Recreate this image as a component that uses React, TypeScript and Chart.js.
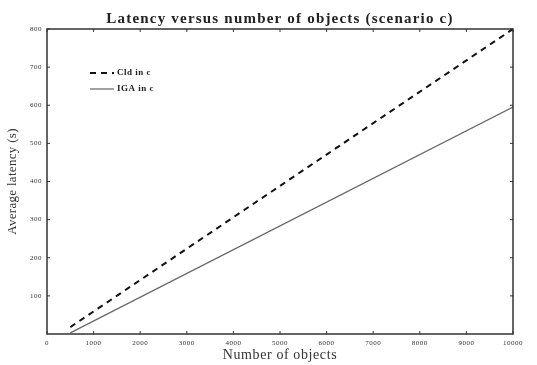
import React, { useEffect, useRef } from "react";
import { Chart, registerables } from "chart.js";
Chart.register(...registerables);

const titleText = "Latency versus number of objects (scenario c)";
const xTitle = "Number of objects";
const yTitle = "Average latency (s)";
const objectCounts = [500, 10000];
const cldLatency = [18, 800];
const igaLatency = [3, 595];
const seriesNames = ["Cld in c", "IGA in c"];
const xTicks = [0, 1000, 2000, 3000, 4000, 5000, 6000, 7000, 8000, 9000, 10000];
const yTicks = [100, 200, 300, 400, 500, 600, 700, 800];

const SERIF = "'Liberation Serif', 'DejaVu Serif', serif";

const framePlugin = {
  id: "frame",
  beforeDraw(chart: any) {
    chart.ctx.letterSpacing = "0.5px";
  },
  afterDatasetsDraw(chart: any) {
    const { ctx, chartArea: a, scales } = chart;
    ctx.save();
    ctx.strokeStyle = "#333";
    ctx.lineWidth = 1.5;
    ctx.strokeRect(a.left, a.top, a.right - a.left, a.bottom - a.top);
    ctx.lineWidth = 1;
    const tl = 3;
    ctx.beginPath();
    for (const v of xTicks) {
      const x = scales.x.getPixelForValue(v);
      ctx.moveTo(x, a.bottom);
      ctx.lineTo(x, a.bottom - tl);
      ctx.moveTo(x, a.top);
      ctx.lineTo(x, a.top + tl);
    }
    for (const v of yTicks) {
      const y = scales.y.getPixelForValue(v);
      ctx.moveTo(a.left, y);
      ctx.lineTo(a.left + tl, y);
      ctx.moveTo(a.right, y);
      ctx.lineTo(a.right - tl, y);
    }
    ctx.stroke();
    // legend
    const lx = a.left + 43;
    const ly = a.top + 44;
    const items = [
      { dash: [6, 5], width: 2, color: "#111" },
      { dash: [], width: 1.2, color: "#666" },
    ];
    ctx.font = "bold 9px " + SERIF;
    ctx.letterSpacing = "0.5px";
    ctx.textBaseline = "middle";
    ctx.textAlign = "left";
    items.forEach((it, i) => {
      const y = ly + i * 16;
      ctx.strokeStyle = it.color;
      ctx.lineWidth = it.width;
      ctx.setLineDash(it.dash);
      ctx.beginPath();
      ctx.moveTo(lx, y);
      ctx.lineTo(lx + 24, y);
      ctx.stroke();
      ctx.setLineDash([]);
      ctx.fillStyle = "#222";
      ctx.fillText(seriesNames[i], lx + 27, y);
    });
    // titles
    const cx = (a.left + a.right) / 2;
    ctx.textAlign = "center";
    ctx.fillStyle = "#222";
    ctx.font = "bold 15px " + SERIF;
    ctx.letterSpacing = "1.2px";
    ctx.fillText(titleText, cx, 19);
    ctx.fillStyle = "#333";
    ctx.font = "14px " + SERIF;
    ctx.letterSpacing = "0.6px";
    ctx.fillText(xTitle, cx, 355);
    ctx.translate(13, (a.top + a.bottom) / 2);
    ctx.rotate(-Math.PI / 2);
    ctx.font = "13px " + SERIF;
    ctx.letterSpacing = "0.3px";
    ctx.fillText(yTitle, 0, 0);
    ctx.restore();
  },
  afterDraw(chart: any) {
    chart.ctx.letterSpacing = "0px";
  },
};

export default function App() {
  const ref = useRef<HTMLCanvasElement>(null);
  useEffect(() => {
    document.body.style.margin = "0";
    const chart = new Chart(ref.current!, {
      type: "line",
      data: {
        datasets: [
          {
            label: seriesNames[0],
            data: objectCounts.map((x, i) => ({ x, y: cldLatency[i] })),
            borderColor: "#111",
            borderWidth: 2,
            borderDash: [6, 5],
            pointRadius: 0,
            fill: false,
          },
          {
            label: seriesNames[1],
            data: objectCounts.map((x, i) => ({ x, y: igaLatency[i] })),
            borderColor: "#666",
            borderWidth: 1.2,
            pointRadius: 0,
            fill: false,
          },
        ],
      },
      options: {
        animation: false,
        responsive: false,
        layout: { padding: { top: 29, right: 24, bottom: 0, left: 0 } },
        plugins: {
          legend: { display: false },
          tooltip: { enabled: false },
          title: { display: false },
        },
        scales: {
          x: {
            type: "linear",
            min: 0,
            max: 10000,
            afterFit: (s: any) => { s.height = 31; },
            afterBuildTicks: (s: any) => { s.ticks = xTicks.map((v) => ({ value: v })); },
            grid: { display: false, drawTicks: false },
            border: { display: false },
            ticks: {
              color: "#333",
              font: { family: SERIF, size: 7 },
              padding: 5,
              maxRotation: 0,
              autoSkip: false,
              callback: (v: any) => String(v),
            },
          },
          y: {
            type: "linear",
            min: 0,
            max: 800,
            afterFit: (s: any) => { s.width = 47; },
            afterBuildTicks: (s: any) => { s.ticks = yTicks.map((v) => ({ value: v })); },
            grid: { display: false, drawTicks: false },
            border: { display: false },
            ticks: {
              color: "#333",
              font: { family: SERIF, size: 7 },
              padding: 5,
              autoSkip: false,
              callback: (v: any) => String(v),
            },
          },
        },
      },
      plugins: [framePlugin],
    } as any);
    return () => chart.destroy();
  }, []);
  return (
    <div style={{ width: 537, height: 365, background: "#fff" }}>
      <canvas ref={ref} width={537} height={365} />
    </div>
  );
}
